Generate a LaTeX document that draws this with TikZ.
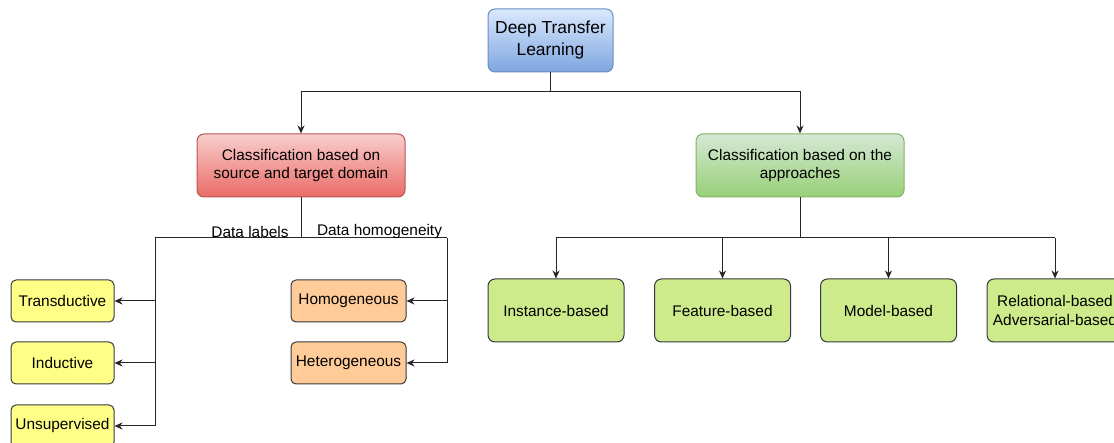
\documentclass[tikz,border=0pt]{standalone}
\usepackage{fontspec}
\setmainfont{Liberation Sans}
\usetikzlibrary{positioning,arrows.meta}

\definecolor{blueTop}{HTML}{DAE8FC}
\definecolor{blueBot}{HTML}{7EA6E0}
\definecolor{blueLine}{HTML}{6C8EBF}
\definecolor{redTop}{HTML}{F8CECC}
\definecolor{redBot}{HTML}{EA6B66}
\definecolor{redLine}{HTML}{B85450}
\definecolor{greenTop}{HTML}{D5E8D4}
\definecolor{greenBot}{HTML}{97D077}
\definecolor{greenLine}{HTML}{82B366}
\definecolor{leafYellow}{HTML}{FFFF88}
\definecolor{leafOrange}{HTML}{FFCC99}
\definecolor{leafGreen}{HTML}{CDEB8B}
\definecolor{leafLine}{HTML}{36393D}

\tikzset{
  box/.style={draw, rounded corners=7pt, align=center, line width=1pt,
    font=\fontsize{15.4}{18.5}\selectfont, inner sep=2pt},
  leaf/.style={box, draw=leafLine, rounded corners=5pt, minimum height=42pt},
  approach/.style={box, draw=leafLine, fill=leafGreen, minimum width=136pt, minimum height=63pt},
  link/.style={line width=1pt, draw=black!85},
  arrow/.style={link, -{Stealth[length=8pt, width=7pt, inset=2.5pt]}},
  tag/.style={font=\fontsize{15.4}{18.5}\selectfont, inner sep=0pt}
}

\begin{document}
\begin{tikzpicture}[x=1pt, y=-1pt]
  \useasboundingbox (0,0) rectangle (1114,443);
  % root and the two ways of classifying
  \node[box, draw=blueLine, top color=blueTop, bottom color=blueBot, minimum width=125pt, minimum height=63pt,
        font=\fontsize{17.4}{22}\selectfont] (root) at (550.5,40.5) {Deep Transfer\\Learning};
  \node[box, draw=redLine, top color=redTop, bottom color=redBot, minimum width=208pt, minimum height=63pt] (domain) at (301,165.5) {Classification based on\\source and target domain};
  \node[box, draw=greenLine, top color=greenTop, bottom color=greenBot, minimum width=208pt, minimum height=63pt] (approaches) at (800,165.5) {Classification based on the\\approaches};

  % domain based leaves
  \node[leaf, fill=leafYellow, minimum width=103pt] (trans) at (62.5,301) {Transductive};
  \node[leaf, fill=leafYellow, minimum width=103pt] (induct) at (62.5,363) {Inductive};
  \node[leaf, fill=leafYellow, minimum width=103pt] (unsup) at (62.5,426) {Unsupervised};
  \node[leaf, fill=leafOrange, minimum width=115pt] (homo) at (348.5,301) {Homogeneous};
  \node[leaf, fill=leafOrange, minimum width=115pt] (hetero) at (348.5,363) {Heterogeneous};

  % approach based leaves
  \node[approach] (instance) at (556,310.5) {Instance-based};
  \node[approach] (feature) at (722.5,310.5) {Feature-based};
  \node[approach] (model) at (888.5,310.5) {Model-based};
  \node[approach] (relational) at (1055,310.5) {Relational-based\\Adversarial-based};

  % branching points
  \coordinate (rootsplit) at (550.5,92);
  \coordinate (domsplit) at (301,238);
  \coordinate (labelbus) at (155,238);
  \coordinate (homobus) at (447,238);
  \coordinate (appsplit) at (800,238);

  \draw[link] (root) -- (rootsplit);
  \draw[arrow] (rootsplit) -| (domain);
  \draw[arrow] (rootsplit) -| (approaches);

  \draw[link] (domain) -- (domsplit);
  \draw[link] (labelbus) -- (homobus);
  \node[tag] (labelstag) at (250,232) {Data labels};
  \node[tag] (homotag) at (379.5,232) {Data homogeneity};
  \draw[arrow] (labelbus) |- (unsup);
  \draw[arrow] (labelbus |- trans) -- (trans);
  \draw[arrow] (labelbus |- induct) -- (induct);
  \draw[arrow] (homobus) |- (hetero);
  \draw[arrow] (homobus |- homo) -- (homo);

  \draw[link] (approaches) -- (appsplit);
  \draw[link] (appsplit -| instance) -- (appsplit -| relational);
  \draw[arrow] (appsplit -| instance) -- (instance);
  \draw[arrow] (appsplit -| feature) -- (feature);
  \draw[arrow] (appsplit -| model) -- (model);
  \draw[arrow] (appsplit -| relational) -- (relational);
\end{tikzpicture}
\end{document}
